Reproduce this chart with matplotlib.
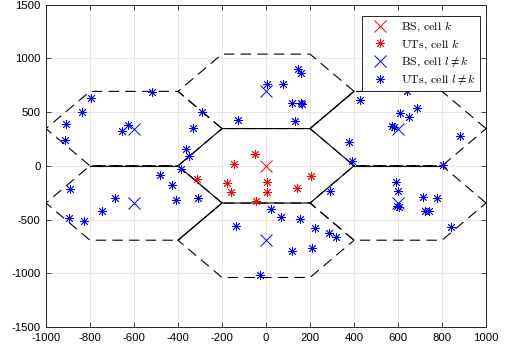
import numpy as np
import matplotlib
matplotlib.use('Agg')
import matplotlib.pyplot as plt

plt.rcParams['font.family'] = ['Liberation Sans', 'DejaVu Sans']
plt.rcParams['mathtext.fontset'] = 'cm'
plt.rcParams['axes.unicode_minus'] = False
plt.rcParams['lines.scale_dashes'] = False

# cell layout (hexagon radius and centres)
radius = 400
cell_x = [0, 0, 0, -600, -600, 600, 600]
cell_y = [0, 693, -693, 346, -346, 346, -346]
# neighbour pairs whose shared edge looks solid in the picture
solid_pairs = [(1, 5), (3, 4), (5, 6), (4, 2)]

# base stations
bs_k_x = [0]
bs_k_y = [0]
bs_l_x = [0, 0, -600, -600, 600, 600]
bs_l_y = [693, -693, 346, -346, 346, -346]

# user terminals in cell k
ut_k_x = [-315, -146, -48, -178, 6, -159, 4, -44, 205, 140]
ut_k_y = [-127, 16, 109, -158, -149, -245, -243, -326, -96, -211]

# user terminals in other cells
ut_l_x = [-909, -912, -835, -794, -516, -653, -627, -330, -365, -348, -292,
          -891, -894, -827, -744, -686, -480, -428, -409, -307, -386,
          147, 161, 4, 76, 117, 157, 162, 133, -128,
          428, 640, 686, 608, 652, 573, 580, 883, 378, 390,
          803, 590, 600, 595, 603, 713, 777, 724, 739, 839, 291,
          22, 67, 155, 224, 288, 319, 209, 120, -27, -137]
ut_l_y = [388, 239, 503, 627, 683, 326, 379, 348, 153, 90, 503,
          -215, -490, -512, -425, -304, -87, -180, -319, -298, -27,
          898, 860, 761, 761, 588, 588, 575, 416, 425,
          612, 696, 540, 492, 456, 370, 358, 277, 220, 40,
          7, -150, -236, -375, -388, -286, -298, -416, -416, -568, -236,
          -400, -473, -496, -575, -624, -661, -763, -797, -1012, -561]


def hexagon(cx, cy):
    ang = np.deg2rad(np.arange(0, 361, 60))
    return cx + radius * np.cos(ang), cy + radius * np.sin(ang)


fig = plt.figure(figsize=(5.07, 3.54), dpi=100)
ax = fig.add_axes([0.0907, 0.0763, 0.868, 0.9107])

# neighbour cells dashed
for cx, cy in zip(cell_x[1:], cell_y[1:]):
    hx, hy = hexagon(cx, cy)
    ax.plot(hx, hy, color='k', lw=0.8, dashes=(7.5, 4.5), zorder=2)
# shared edges between neighbours drawn solid
for i, j in solid_pairs:
    pi = np.array(hexagon(cell_x[i], cell_y[i])).T[:-1]
    pj = np.array(hexagon(cell_x[j], cell_y[j])).T[:-1]
    common = np.array([p for p in pi if np.min(np.hypot(*(pj - p).T)) < 1])
    ax.plot(common[:, 0], common[:, 1], color='k', lw=0.8, zorder=2)
# cell k solid
hx, hy = hexagon(cell_x[0], cell_y[0])
ax.plot(hx, hy, color='k', lw=0.8, zorder=2)

star = (8, 2, 0)
h1, = ax.plot(bs_k_x, bs_k_y, ls='none', marker='x', ms=9, mew=0.7,
              color='#ff0000', zorder=3)
h2, = ax.plot(ut_k_x, ut_k_y, ls='none', marker=star, ms=6.5, mew=0.6,
              color='#ff0000', zorder=3)
h3, = ax.plot(bs_l_x, bs_l_y, ls='none', marker='x', ms=9, mew=0.7,
              color='#0000ff', zorder=3)
h4, = ax.plot(ut_l_x, ut_l_y, ls='none', marker=star, ms=6.5, mew=0.6,
              color='#0000ff', zorder=3)

ax.set_xlim(-1000, 1000)
ax.set_ylim(-1500, 1500)
ax.set_xticks(np.arange(-1000, 1001, 200))
ax.set_yticks(np.arange(-1500, 1501, 500))
ax.grid(True, color='#e3e3e3', lw=0.6)
ax.set_axisbelow(True)
ax.tick_params(direction='in', length=3.5, width=0.6, top=True, right=True,
               labelsize=8.2, colors='#262626', labelcolor='k')
ax.tick_params(axis='x', pad=4.5)
ax.tick_params(axis='y', pad=4)
for s in ax.spines.values():
    s.set_linewidth(0.7)
    s.set_color('#262626')

leg = ax.legend([h1, h2, h3, h4],
                ['BS, cell $k$', 'UTs, cell $k$',
                 r'BS, cell $l \neq k$', r'UTs, cell $l \neq k$'],
                loc='upper right', bbox_to_anchor=(0.986, 0.966),
                borderaxespad=0, fancybox=False, framealpha=1,
                edgecolor='#262626', prop={'family': 'cmr10', 'size': 8.6},
                handlelength=2.3, handletextpad=0.6, labelspacing=0.28,
                borderpad=0.35)
leg.get_frame().set_linewidth(0.7)

fig.savefig('out.png', dpi=100)
